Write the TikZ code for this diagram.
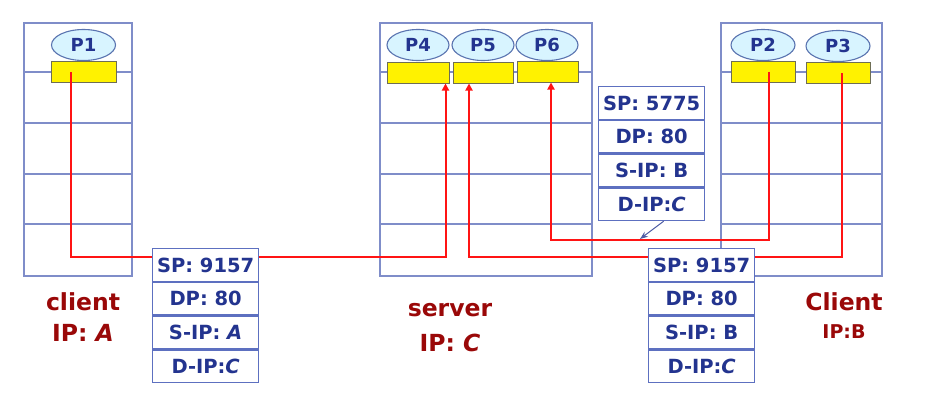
\documentclass[tikz,border=0pt]{standalone}
\usepackage{fontspec}
\setmainfont{DejaVu Sans}
\usetikzlibrary{shapes.geometric,arrows.meta}
\definecolor{hostc}{HTML}{7F8DC9}
\definecolor{ellf}{HTML}{D8F4FF}
\definecolor{elld}{HTML}{5A74B0}
\definecolor{sockd}{HTML}{6E6E55}
\definecolor{navy}{HTML}{23348F}
\definecolor{pktd}{HTML}{5D70C0}
\definecolor{lab}{HTML}{9A0808}
\definecolor{wire}{HTML}{FF1414}
\begin{document}
\begin{tikzpicture}[x=1pt,y=-1pt,
  hostbox/.style={draw=hostc, line width=1.6pt, minimum width=#1, minimum height=253pt, anchor=north west, inner sep=0pt},
  rowline/.style={draw=hostc, line width=1.4pt},
  proc/.style={ellipse, draw=elld, line width=1.1pt, fill=ellf, minimum width=64pt, minimum height=31pt, inner sep=0pt, text=navy, font=\fontsize{18}{18}\selectfont\bfseries},
  sock/.style={draw=sockd, line width=1pt, fill=yellow, minimum width=#1, minimum height=21pt, inner sep=0pt},
  pkt/.style={draw=pktd, line width=1.3pt, fill=white, minimum width=106pt, minimum height=32.5pt, inner sep=0pt, text=navy, font=\fontsize{19.5}{19.5}\selectfont\bfseries},
  wirel/.style={draw=wire, line width=2pt},
  wirea/.style={wirel, -{Triangle[length=7pt,width=7pt]}},
  labl/.style={text=lab, font=\fontsize{23.5}{23.5}\selectfont\bfseries},
  labs/.style={text=lab, font=\fontsize{19}{19}\selectfont\bfseries}]
\useasboundingbox (0,0) rectangle (936,410);
\fill[white] (0,0) rectangle (936,410);

% hosts
\node[hostbox=108pt] (hA) at (23,22) {};
\node[hostbox=212pt] (hC) at (379,22) {};
\node[hostbox=161pt] (hB) at (720,22) {};
\foreach \h in {hA,hC,hB}{
  \foreach \yy in {72,123,174,224}{
    \coordinate (r) at (0,\yy);
    \draw[rowline] (\h.west |- r) -- (\h.east |- r);
  }
}

% sockets and processes
\node[sock=65pt] (s1) at (83.5,72) {};
\node[proc] (p1) at (83.5,45) {P1};
\node[sock=62pt] (s4) at (418,72.5) {};
\node[sock=60pt] (s5) at (483,72.5) {};
\node[sock=61pt] (s6) at (547.5,71.5) {};
\node[proc, minimum width=62pt] (p4) at (418,45) {P4};
\node[proc, minimum width=62pt] (p5) at (483,45) {P5};
\node[proc, minimum width=62pt] (p6) at (547,45) {P6};
\node[sock=64pt] (s2) at (763,71.5) {};
\node[sock=64pt] (s3) at (838,73) {};
\node[proc] (p2) at (763,45) {P2};
\node[proc] (p3) at (838,46) {P3};

% wires
\coordinate (yA) at (0,257);
\coordinate (yB) at (0,240);
\coordinate (f1) at ([xshift=-12.5pt]s1.center);
\coordinate (t4) at ([xshift=-4pt]s4.south east);
\coordinate (f3) at ([xshift=4pt]s3.center);
\coordinate (t5) at ([xshift=-14pt]s5.south);
\coordinate (f2) at ([xshift=6pt]s2.center);
\coordinate (t6) at ([xshift=3.5pt]s6.south);
\draw[wirea] (f1) |- (yA -| t4) -- (t4);
\draw[wirea] (f3) |- (yA -| t5) -- (t5);
\draw[wirea] (f2) |- (yB -| t6) -- (t6);

% packets
\node[pkt, anchor=north west] (a1) at (152,248) {SP: 9157};
\node[pkt, anchor=north] (a2) at (a1.south) {DP: 80};
\node[pkt, anchor=north] (a3) at (a2.south) {S-IP: \textit{A}};
\node[pkt, anchor=north] (a4) at (a3.south) {D-IP:\textit{C}};

\node[pkt, anchor=north west] (b1) at (598,86) {SP: 5775};
\node[pkt, anchor=north] (b2) at (b1.south) {DP: 80};
\node[pkt, anchor=north] (b3) at (b2.south) {S-IP: B};
\node[pkt, anchor=north] (b4) at (b3.south) {D-IP:\textit{C}};

\node[pkt, anchor=north west] (c1) at (648,248) {SP: 9157};
\node[pkt, anchor=north] (c2) at (c1.south) {DP: 80};
\node[pkt, anchor=north] (c3) at (c2.south) {S-IP: B};
\node[pkt, anchor=north] (c4) at (c3.south) {D-IP:\textit{C}};

\coordinate (hit) at (640,239);
\draw[draw=navy!80, line width=1pt, -{Stealth[length=8pt,width=6pt]}] ([xshift=12pt]b4.south) -- (hit);

% labels
\node[labl] (lA1) at (83,302) {client};
\node[labl] (lA2) at (83,333) {IP: \textit{A}};
\node[labl] (lC1) at (450,310) {server};
\node[labl] (lC2) at (450,343) {IP: \textit{C}};
\node[labl] (lB1) at (844,302) {Client};
\node[labs] (lB2) at (844,332) {IP:B};
\end{tikzpicture}
\end{document}
